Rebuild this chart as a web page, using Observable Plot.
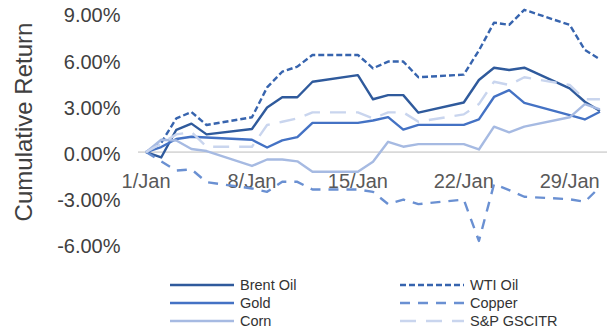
<!DOCTYPE html>
<html>
<head>
<meta charset="utf-8">
<script src="https://cdn.jsdelivr.net/npm/d3@7"></script>
<script src="https://cdn.jsdelivr.net/npm/@observablehq/plot@0.6"></script>
<style>
  body { margin: 0; background: #fff; font-family: "Liberation Sans", Arial, sans-serif; }
  #wrap { position: relative; width: 613px; height: 332px; }
  .leg { position: absolute; display: flex; align-items: center; height: 18px; font-size: 14.5px; color: #333; white-space: nowrap; }
  .leg span { margin-left: 6px; }
</style>
</head>
<body>
<div id="wrap"><div id="chart"></div></div>
<script>
// Trading days in January 2018
const days = [1, 2, 3, 4, 5, 8, 9, 10, 11, 12, 15, 16, 17, 18, 19, 22, 23, 24, 25, 26, 29, 30, 31];

// Cumulative return (%) per series
const brent  = [0, -0.35, 1.45, 1.85, 1.15, 1.5, 2.9, 3.56, 3.56, 4.57, 5.0, 3.43, 3.7, 3.7, 2.56, 3.22, 4.68, 5.48, 5.33, 5.48, 4.14, 3.27, 2.67];
const wti    = [0, 0.6, 2.19, 2.6, 1.76, 2.26, 4.2, 5.22, 5.55, 6.31, 6.31, 5.44, 5.88, 5.88, 4.86, 5.03, 6.6, 8.41, 8.26, 9.24, 8.26, 6.64, 6.03];
const gold   = [0, 0.33, 0.85, 1.0, 0.95, 0.8, 0.3, 0.76, 0.97, 1.9, 1.9, 2.05, 2.27, 1.46, 1.77, 1.77, 2.12, 3.58, 4.02, 3.2, 2.4, 2.12, 2.62];
const copper = [0, -0.6, -1.2, -1.12, -1.95, -2.36, -2.58, -1.93, -1.93, -2.43, -2.43, -2.58, -3.38, -3.08, -3.38, -3.08, -5.77, -2.08, -2.47, -2.9, -3.06, -3.23, -2.26];
const corn   = [0, 0.8, 0.75, 0.2, 0.07, -0.9, -0.48, -0.48, -0.6, -1.28, -1.28, -0.63, 0.67, 0.35, 0.52, 0.52, 0.17, 1.65, 1.28, 1.65, 2.26, 3.12, 2.78];
const sp     = [0, 0.55, 1.15, 1.3, 0.35, 0.35, 1.76, 1.97, 2.19, 2.58, 2.58, 2.19, 2.58, 2.58, 1.97, 2.45, 3.12, 4.57, 4.36, 4.86, 4.36, 3.43, 3.43];

const seriesNames = ["Brent Oil", "WTI Oil", "Gold", "Copper", "Corn", "S&P GSCITR"];
const seriesValues = [brent, wti, gold, copper, corn, sp];
const seriesColors = ["#2F5A9C", "#3764AE", "#4472C4", "#6A90D2", "#A6BAE2", "#C9D5EE"];
const seriesDash = [null, "6,3", null, "10,8", null, "16,10"];

const yTicks = [-6, -3, 0, 3, 6, 9];
const xTickDays = [1, 8, 15, 22, 29];
const xTickLabels = ["1/Jan", "8/Jan", "15/Jan", "22/Jan", "29/Jan"];

const toDate = d => new Date(Date.UTC(2018, 0, d));
const series = seriesNames.map((name, k) => ({
  name, color: seriesColors[k], dash: seriesDash[k],
  data: days.map((d, i) => ({date: toDate(d), value: seriesValues[k][i]}))
}));
const xTicks = xTickDays.map((d, i) => ({date: toDate(d), label: xTickLabels[i]}));

const chart = Plot.plot({
  width: 613,
  height: 270,
  marginLeft: 138,
  marginRight: 6,
  marginTop: 13,
  marginBottom: 26,
  style: {fontFamily: '"Liberation Sans", Arial, sans-serif', background: "#fff"},
  x: {type: "utc", domain: [new Date(Date.UTC(2017, 11, 31, 12)), new Date(Date.UTC(2018, 0, 31, 12))], axis: null},
  y: {domain: [-6, 9]},
  marks: [
    Plot.axisY({ticks: yTicks, tickFormat: d => d.toFixed(2) + "%", tickSize: 0, tickPadding: 18, fontSize: 20, fill: "#404040", dy: 2.5, label: null}),
    Plot.text(["Cumulative Return"], {frameAnchor: "left", textAnchor: "middle", dx: -114, dy: -7, rotate: -90, fontSize: 24, fill: "#404040"}),
    Plot.ruleY([0], {stroke: "#D9D9D9", strokeWidth: 1.8}),
    Plot.text(xTicks, {x: "date", y: () => 0, text: "label", dy: 29, fontSize: 20, fill: "#595959", textAnchor: "middle"}),
    ...series.map(s => Plot.line(s.data, {
      x: "date", y: "value", stroke: s.color, strokeWidth: 2.4,
      strokeDasharray: s.dash, strokeLinejoin: "round", strokeLinecap: "butt"
    }))
  ]
});
document.getElementById("chart").appendChild(chart);

// Legend (HTML, below the SVG)
const wrap = d3.select("#wrap");
const legCols = [170, 400];
const legRows = [285, 303, 321];
series.forEach((s, k) => {
  const col = k % 2, row = Math.floor(k / 2);
  const item = wrap.append("div").attr("class", "leg")
    .style("left", legCols[col] + "px").style("top", (legRows[row] - 9) + "px");
  const sv = item.append("svg").attr("width", 64).attr("height", 18);
  sv.append("line").attr("x1", 0).attr("x2", 64).attr("y1", 9).attr("y2", 9)
    .attr("stroke", s.color).attr("stroke-width", 2.6)
    .attr("stroke-dasharray", s.dash);
  item.append("span").text(s.name);
});
</script>
</body>
</html>
